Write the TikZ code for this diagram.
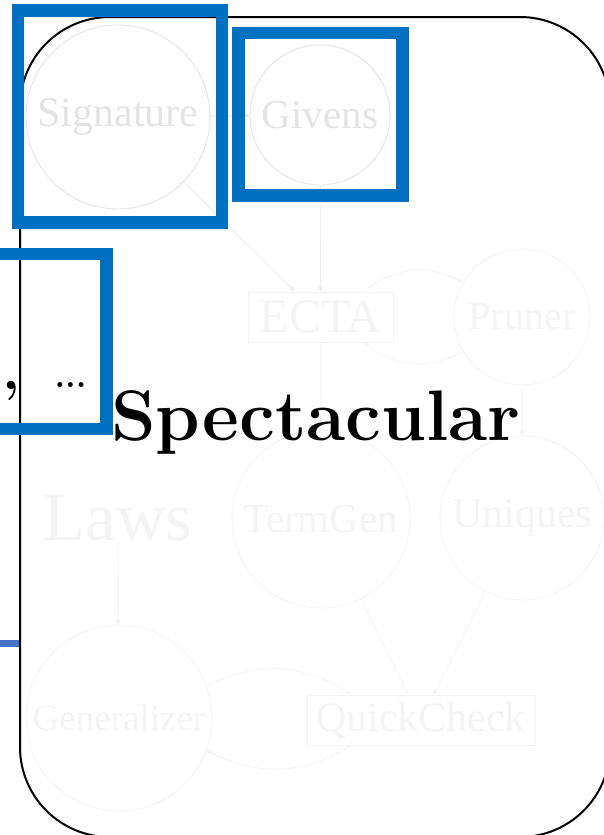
\documentclass[tikz,border=0pt]{standalone}
\usepackage{fontspec}
\newfontfamily\diagfont{Liberation Serif}
\usepackage{xcolor}
\usetikzlibrary{arrows.meta, positioning}
\definecolor{HighlightBlue}{RGB}{0, 112, 192}
\definecolor{LinkBlue}{RGB}{68, 114, 196}
\definecolor{FadeDark}{RGB}{228, 228, 228}
\definecolor{FadeMid}{RGB}{236, 236, 236}
\definecolor{FadeLight}{RGB}{244, 244, 244}
\newcommand{\fsz}[1]{\fontsize{#1}{#1}\selectfont}

\begin{document}
\begin{tikzpicture}[x=1pt, y=-1pt,
    stage/.style={circle, draw=#1, text=#1, line width=0.9pt, inner sep=0pt},
    stagebox/.style={rectangle, draw=#1, text=#1, line width=0.9pt, inner sep=0pt},
    flow/.style={draw=#1, line width=0.9pt, -{Stealth[length=6pt, width=5pt]}},
    highlight/.style={draw=HighlightBlue, line width=12.5pt}]
  \useasboundingbox (0,0) rectangle (604,835);

  % faded pipeline
  \node[stage=FadeDark, minimum size=184pt, font=\diagfont\fsz{42}] (signature) at (118,117) {Signature};
  \node[stage=FadeDark, minimum size=140pt, font=\diagfont\fsz{41}] (givens) at (320,115) {Givens};
  \node[stagebox=FadeLight, minimum width=145pt, minimum height=50pt, font=\diagfont\fsz{48}] (ecta) at (320.5,317) {ECTA};
  \node[stage=FadeLight, minimum size=136pt, font=\diagfont\fsz{40}] (pruner) at (522,317) {Pruner};
  \node[stage=FadeLight, minimum size=178pt, font=\diagfont\fsz{41}] (termgen) at (321,519) {TermGen};
  \node[stage=FadeLight, minimum size=164pt, font=\diagfont\fsz{42}] (uniques) at (522,518) {Uniques};
  \node[text=FadeLight, inner sep=0pt, anchor=base, font=\diagfont\fsz{69}] (laws) at (118,540) {Laws};
  \node[stage=FadeLight, minimum size=186pt, font=\diagfont\fsz{37}] (generalizer) at (119,718) {Generalizer};
  \node[stagebox=FadeLight, minimum width=228pt, minimum height=50pt, font=\diagfont\fsz{42}] (quickcheck) at (421,720) {QuickCheck};

  \draw[flow=FadeDark] (signature) -- (givens);
  \draw[flow=FadeMid] (signature) -- (ecta);
  \draw[flow=FadeMid] (givens) -- (ecta);
  \draw[flow=FadeLight] (ecta.30) to[bend left=35] (pruner.150);
  \draw[flow=FadeLight] (pruner.210) to[bend left=35] (ecta.-30);
  \draw[flow=FadeLight] (ecta) -- (termgen);
  \draw[flow=FadeLight] (pruner) -- (uniques);
  \draw[flow=FadeLight] (laws) -- (generalizer);
  \draw[flow=FadeLight] (termgen) -- (quickcheck);
  \draw[flow=FadeLight] (uniques) -- (quickcheck);
  \draw[flow=FadeLight] (generalizer.20) to[bend left=30] (quickcheck.160);
  \draw[flow=FadeLight] (quickcheck.200) to[bend left=30] (generalizer.-20);

  % frame
  \draw[line width=2pt, rounded corners=90pt] (20,17) rectangle (610,837);

  % highlights
  \draw[highlight] (18,10.5) rectangle (222,222.5);
  \draw[highlight] (238.5,33) rectangle (402.5,195.5);
  \draw[highlight] (-20,254) rectangle (106.5,429);
  \coordinate (linkstart) at (-5,643.5);
  \coordinate (linkend) at (19,643.5);
  \draw[LinkBlue, line width=7pt] (linkstart) -- (linkend);

  \node[inner sep=0pt, anchor=base, font=\fsz{57}\bfseries] (comma) at (11,389) {,};
  \node[inner sep=0pt, font=\fsz{34}\bfseries] (dots) at (70.5,385) {...};
  \node[inner sep=0pt, anchor=base west, font=\fsz{71.5}\bfseries] (title) at (111,440) {Spectacular};
\end{tikzpicture}
\end{document}
